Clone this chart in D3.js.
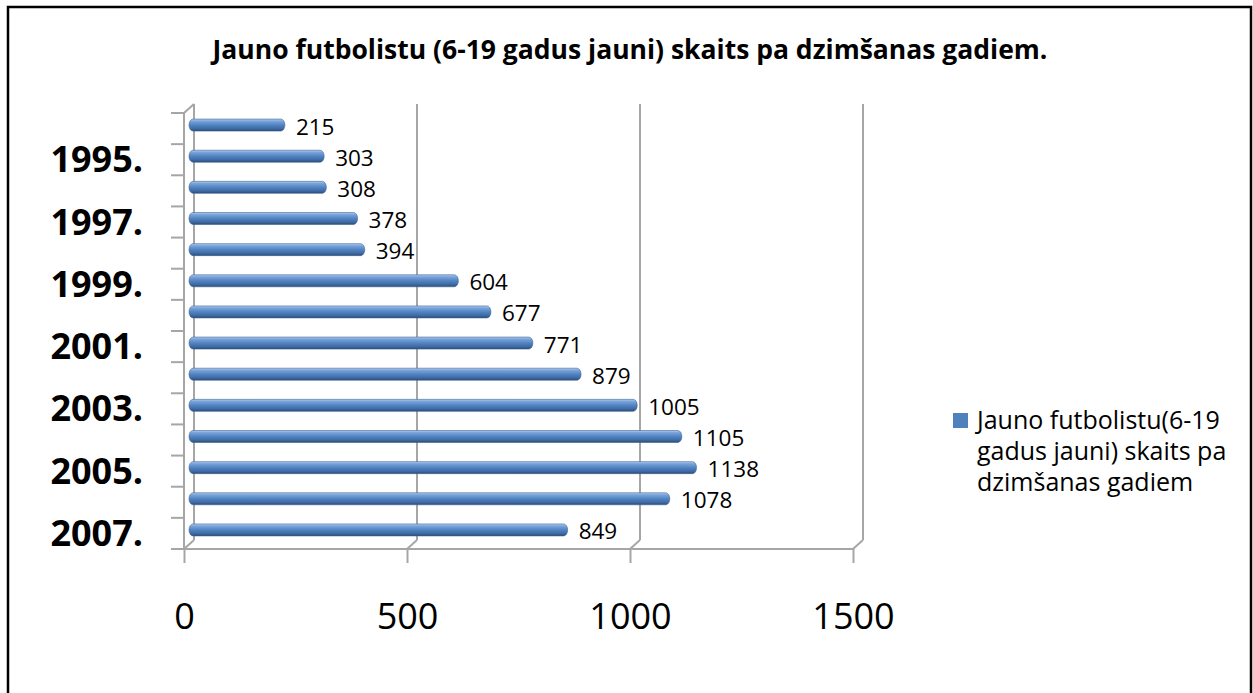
<!DOCTYPE html>
<html>
<head>
<meta charset="utf-8">
<script src="https://cdn.jsdelivr.net/npm/d3@7"></script>
<style>
  html, body { margin: 0; padding: 0; background: #fff; }
  svg { display: block; }
  text { font-family: "Open Sans", "Liberation Sans", sans-serif; fill: #000; }
</style>
</head>
<body>
<svg id="chart" width="1253" height="693"></svg>
<script>
// Birth years (top to bottom) and number of young players for each year
const years = ["1994.", "1995.", "1996.", "1997.", "1998.", "1999.", "2000.",
               "2001.", "2002.", "2003.", "2004.", "2005.", "2006.", "2007."];
const players = [215, 303, 308, 378, 394, 604, 677, 771, 879, 1005, 1105, 1138, 1078, 849];
const shownYears = ["1995.", "1997.", "1999.", "2001.", "2003.", "2005.", "2007."];
const xTicks = [0, 500, 1000, 1500];

const titleText = "Jauno futbolistu (6-19 gadus jauni) skaits pa dzimšanas gadiem.";
const legendLines = ["Jauno futbolistu(6-19", "gadus jauni) skaits pa", "dzimšanas gadiem"];

const svg = d3.select("#chart");

// outer frame
svg.append("rect")
  .attr("x", 8).attr("y", 7).attr("width", 1243).attr("height", 720)
  .attr("fill", "none").attr("stroke", "#000").attr("stroke-width", 2.5);

// title
svg.append("text")
  .attr("x", 630).attr("y", 52)
  .attr("text-anchor", "middle").attr("dominant-baseline", "middle")
  .attr("font-weight", "bold").attr("font-size", 26.5)
  .text(titleText);

// 3D box geometry: front plane scales plus a depth offset to the back wall
const depth = { dx: 10, dy: -9 };
const x = d3.scaleLinear().domain([0, 1500]).range([184, 853]);
const y = d3.scaleBand().domain(years).range([113, 549]).paddingInner(0).paddingOuter(0);
const floorY = 549, topY = 113;
const wallColor = "#a6a6a6";

const walls = svg.append("g").attr("stroke", wallColor).attr("stroke-width", 2).attr("fill", "none");

// back wall gridlines with their floor diagonals
xTicks.forEach(v => {
  const fx = x(v);
  walls.append("line")
    .attr("x1", fx + depth.dx).attr("y1", topY + depth.dy)
    .attr("x2", fx + depth.dx).attr("y2", floorY + depth.dy);
  walls.append("line")
    .attr("x1", fx).attr("y1", floorY)
    .attr("x2", fx + depth.dx).attr("y2", floorY + depth.dy);
});
// left wall front edge and top diagonal
walls.append("line").attr("x1", x(0)).attr("y1", topY).attr("x2", x(0)).attr("y2", floorY);
walls.append("line").attr("x1", x(0)).attr("y1", topY)
  .attr("x2", x(0) + depth.dx).attr("y2", topY + depth.dy);
// floor front edge
walls.append("line").attr("x1", x(0)).attr("y1", floorY).attr("x2", x(1500)).attr("y2", floorY);

// value axis ticks and labels
const xAxis = d3.axisBottom(x).tickValues(xTicks).tickSize(14).tickPadding(40).tickFormat(d3.format("d"));
const gx = svg.append("g").attr("transform", `translate(0,${floorY})`).call(xAxis);
gx.select(".domain").remove();
gx.selectAll(".tick line").attr("stroke", wallColor).attr("stroke-width", 2);
gx.selectAll(".tick text")
  .attr("font-family", "'Open Sans', sans-serif").attr("font-size", 36).attr("fill", "#000");

// category ticks at band boundaries
const bounds = years.map(d => y(d)).concat([y.range()[1]]);
walls.selectAll(".ctick").data(bounds).enter().append("line")
  .attr("x1", x(0) - 13).attr("x2", x(0))
  .attr("y1", d => d).attr("y2", d => d);

// category labels (every other year)
svg.append("g").selectAll("text").data(shownYears).enter().append("text")
  .attr("x", 143)
  .attr("y", d => y(d) + y.bandwidth() / 2 + 3)
  .attr("text-anchor", "end").attr("dominant-baseline", "middle")
  .attr("font-weight", "bold").attr("font-size", 36)
  .text(d => d);

// cylinder-like shading for the bars
const defs = svg.append("defs");
const grad = defs.append("linearGradient").attr("id", "barGrad")
  .attr("x1", 0).attr("y1", 0).attr("x2", 0).attr("y2", 1);
[["0%", "#b3cdef"], ["18%", "#79a3da"], ["50%", "#5184c2"], ["80%", "#3f6aa3"], ["100%", "#2b4b75"]]
  .forEach(([o, c]) => grad.append("stop").attr("offset", o).attr("stop-color", c));

const data = years.map((yr, i) => ({ yr, v: players[i] }));
const barH = 12;
const mid = { dx: depth.dx / 2, dy: depth.dy / 2 };
const bars = svg.append("g");
bars.selectAll("rect").data(data).enter().append("rect")
  .attr("x", x(0) + mid.dx)
  .attr("y", d => y(d.yr) + y.bandwidth() / 2 + mid.dy + 1 - barH / 2)
  .attr("width", d => x(d.v) - x(0))
  .attr("height", barH)
  .attr("rx", 4).attr("ry", 6)
  .attr("fill", "url(#barGrad)")
  .attr("stroke", "#3a6497").attr("stroke-width", 0.6);

// value labels
svg.append("g").selectAll("text").data(data).enter().append("text")
  .attr("x", d => x(d.v) + mid.dx + 11)
  .attr("y", d => y(d.yr) + y.bandwidth() / 2)
  .attr("dominant-baseline", "middle")
  .attr("font-size", 22.5)
  .text(d => d.v);

// legend
const lg = svg.append("g");
lg.append("rect").attr("x", 953).attr("y", 413).attr("width", 15).attr("height", 15).attr("fill", "#4f81bd");
lg.selectAll("text").data(legendLines).enter().append("text")
  .attr("x", 977).attr("y", (d, i) => 422 + i * 31)
  .attr("dominant-baseline", "middle")
  .attr("font-size", 25)
  .text(d => d);
</script>
</body>
</html>
